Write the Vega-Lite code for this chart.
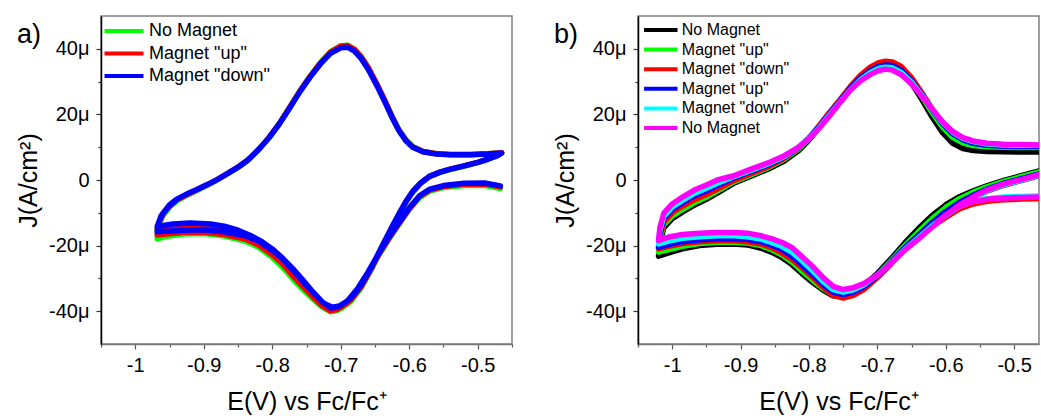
{
"$schema": "https://vega.github.io/schema/vega-lite/v6.json",
"background": "white",
"padding": {"left": 15, "top": 15, "right": 0, "bottom": 0},
"config": {
  "font": "Liberation Sans",
  "view": {"stroke": "#808080", "strokeWidth": 1.5},
  "axis": {"grid": false, "labelColor": "black", "titleColor": "black", "titleFontWeight": "normal", "labelFontSize": 20, "titleFontSize": 25, "tickWidth": 1.2, "labelLimit": 300},
  "axisX": {"domainColor": "#777777", "domainWidth": 1.5, "tickColor": "#555555", "labelPadding": 6, "titlePadding": 14,
    "tickSize": {"condition": {"test": "abs(datum.value*10 - round(datum.value*10)) < 0.001", "value": 5}, "value": 3}},
  "axisY": {"domainColor": "black", "domainWidth": 1.5, "tickColor": "#333333", "labelPadding": 7, "titlePadding": 7,
    "tickSize": {"condition": {"test": "datum.value % 20 == 0", "value": 5}, "value": 3}},
  "legend": {"labelColor": "black", "labelLimit": 400}
},
"datasets": {
"A": [
{"i":1,"E":-0.467,"a1":-2.6,"a2":-2.1,"a3":-1.8},
{"i":2,"E":-0.49,"a1":-1.6,"a2":-1.2,"a3":-0.9},
{"i":3,"E":-0.52,"a1":-1.7,"a2":-1.3,"a3":-1.0},
{"i":4,"E":-0.55,"a1":-2.3,"a2":-2.0,"a3":-1.7},
{"i":5,"E":-0.57,"a1":-3.4,"a2":-3.1,"a3":-2.8},
{"i":6,"E":-0.585,"a1":-5.4,"a2":-5.1,"a3":-4.8},
{"i":7,"E":-0.6,"a1":-9.0,"a2":-8.8,"a3":-8.5},
{"i":8,"E":-0.615,"a1":-13.5,"a2":-13.3,"a3":-13.0},
{"i":9,"E":-0.63,"a1":-18.2,"a2":-17.9,"a3":-17.5},
{"i":10,"E":-0.645,"a1":-23.2,"a2":-22.9,"a3":-22.5},
{"i":11,"E":-0.66,"a1":-28.8,"a2":-28.5,"a3":-28.0},
{"i":12,"E":-0.675,"a1":-33.8,"a2":-33.5,"a3":-33.0},
{"i":13,"E":-0.69,"a1":-37.8,"a2":-37.4,"a3":-36.8},
{"i":14,"E":-0.705,"a1":-39.8,"a2":-39.5,"a3":-38.8},
{"i":15,"E":-0.715,"a1":-40.2,"a2":-39.9,"a3":-39.0},
{"i":16,"E":-0.728,"a1":-38.6,"a2":-38.2,"a3":-37.0},
{"i":17,"E":-0.74,"a1":-36.4,"a2":-35.8,"a3":-34.5},
{"i":18,"E":-0.755,"a1":-33.4,"a2":-32.6,"a3":-31.0},
{"i":19,"E":-0.77,"a1":-30.2,"a2":-29.2,"a3":-27.5},
{"i":20,"E":-0.785,"a1":-26.6,"a2":-25.6,"a3":-24.0},
{"i":21,"E":-0.8,"a1":-23.6,"a2":-22.8,"a3":-21.5},
{"i":22,"E":-0.82,"a1":-20.5,"a2":-19.8,"a3":-18.6},
{"i":23,"E":-0.84,"a1":-18.6,"a2":-18.0,"a3":-17.0},
{"i":24,"E":-0.87,"a1":-17.1,"a2":-16.6,"a3":-15.8},
{"i":25,"E":-0.9,"a1":-16.3,"a2":-15.9,"a3":-15.2},
{"i":26,"E":-0.93,"a1":-16.5,"a2":-16.0,"a3":-15.3},
{"i":27,"E":-0.955,"a1":-17.2,"a2":-16.5,"a3":-15.6},
{"i":28,"E":-0.968,"a1":-18.0,"a2":-16.8,"a3":-15.8},
{"i":29,"E":-0.966,"a1":-14.2,"a2":-13.5,"a3":-13.0},
{"i":30,"E":-0.96,"a1":-11.0,"a2":-10.6,"a3":-10.3},
{"i":31,"E":-0.95,"a1":-8.3,"a2":-7.9,"a3":-7.6},
{"i":32,"E":-0.94,"a1":-6.5,"a2":-6.1,"a3":-5.9},
{"i":33,"E":-0.925,"a1":-4.7,"a2":-4.5,"a3":-4.3},
{"i":34,"E":-0.91,"a1":-3.2,"a2":-3.0,"a3":-2.9},
{"i":35,"E":-0.895,"a1":-1.6,"a2":-1.5,"a3":-1.4},
{"i":36,"E":-0.88,"a1":0.0,"a2":0.1,"a3":0.2},
{"i":37,"E":-0.865,"a1":1.9,"a2":2.0,"a3":2.0},
{"i":38,"E":-0.85,"a1":3.8,"a2":3.9,"a3":3.9},
{"i":39,"E":-0.835,"a1":6.1,"a2":6.2,"a3":6.2},
{"i":40,"E":-0.82,"a1":9.2,"a2":9.3,"a3":9.3},
{"i":41,"E":-0.805,"a1":12.8,"a2":12.9,"a3":12.8},
{"i":42,"E":-0.79,"a1":17.1,"a2":17.1,"a3":17.0},
{"i":43,"E":-0.775,"a1":22.0,"a2":22.0,"a3":21.8},
{"i":44,"E":-0.76,"a1":27.0,"a2":27.0,"a3":26.8},
{"i":45,"E":-0.745,"a1":31.6,"a2":31.5,"a3":31.3},
{"i":46,"E":-0.73,"a1":35.7,"a2":35.6,"a3":35.3},
{"i":47,"E":-0.715,"a1":39.1,"a2":39.0,"a3":38.6},
{"i":48,"E":-0.7,"a1":40.9,"a2":40.8,"a3":40.3},
{"i":49,"E":-0.69,"a1":41.1,"a2":41.0,"a3":40.5},
{"i":50,"E":-0.68,"a1":39.9,"a2":39.8,"a3":39.3},
{"i":51,"E":-0.67,"a1":37.6,"a2":37.5,"a3":37.0},
{"i":52,"E":-0.66,"a1":34.4,"a2":34.3,"a3":33.8},
{"i":53,"E":-0.647,"a1":29.2,"a2":29.1,"a3":28.7},
{"i":54,"E":-0.635,"a1":24.0,"a2":23.9,"a3":23.5},
{"i":55,"E":-0.625,"a1":19.4,"a2":19.3,"a3":19.0},
{"i":56,"E":-0.615,"a1":15.3,"a2":15.2,"a3":15.0},
{"i":57,"E":-0.605,"a1":12.3,"a2":12.2,"a3":12.0},
{"i":58,"E":-0.595,"a1":10.2,"a2":10.1,"a3":10.0},
{"i":59,"E":-0.58,"a1":8.7,"a2":8.7,"a3":8.6},
{"i":60,"E":-0.56,"a1":8.0,"a2":8.0,"a3":7.9},
{"i":61,"E":-0.54,"a1":7.8,"a2":7.8,"a3":7.7},
{"i":62,"E":-0.51,"a1":7.8,"a2":7.8,"a3":7.7},
{"i":63,"E":-0.485,"a1":8.0,"a2":8.0,"a3":7.9},
{"i":64,"E":-0.465,"a1":8.3,"a2":8.3,"a3":8.2},
{"i":65,"E":-0.472,"a1":7.3,"a2":7.4,"a3":7.4},
{"i":66,"E":-0.485,"a1":6.3,"a2":6.4,"a3":6.4},
{"i":67,"E":-0.5,"a1":5.3,"a2":5.4,"a3":5.4},
{"i":68,"E":-0.52,"a1":4.2,"a2":4.3,"a3":4.3},
{"i":69,"E":-0.54,"a1":3.2,"a2":3.3,"a3":3.3},
{"i":70,"E":-0.555,"a1":2.3,"a2":2.4,"a3":2.4},
{"i":71,"E":-0.57,"a1":1.0,"a2":1.1,"a3":1.2},
{"i":72,"E":-0.583,"a1":-1.0,"a2":-0.9,"a3":-0.8},
{"i":73,"E":-0.595,"a1":-3.8,"a2":-3.6,"a3":-3.5},
{"i":74,"E":-0.605,"a1":-6.9,"a2":-6.7,"a3":-6.6},
{"i":75,"E":-0.615,"a1":-10.7,"a2":-10.5,"a3":-10.3},
{"i":76,"E":-0.625,"a1":-14.7,"a2":-14.5,"a3":-14.2},
{"i":77,"E":-0.64,"a1":-20.9,"a2":-20.6,"a3":-20.3},
{"i":78,"E":-0.655,"a1":-27.2,"a2":-26.9,"a3":-26.5},
{"i":79,"E":-0.67,"a1":-32.8,"a2":-32.5,"a3":-32.0},
{"i":80,"E":-0.685,"a1":-36.9,"a2":-36.5,"a3":-36.0},
{"i":81,"E":-0.7,"a1":-39.3,"a2":-38.9,"a3":-38.3},
{"i":82,"E":-0.712,"a1":-39.8,"a2":-39.4,"a3":-38.8},
{"i":83,"E":-0.725,"a1":-38.6,"a2":-38.2,"a3":-37.6},
{"i":84,"E":-0.74,"a1":-35.4,"a2":-35.0,"a3":-34.3},
{"i":85,"E":-0.755,"a1":-31.8,"a2":-31.3,"a3":-30.6},
{"i":86,"E":-0.77,"a1":-28.2,"a2":-27.7,"a3":-27.0},
{"i":87,"E":-0.785,"a1":-25.0,"a2":-24.5,"a3":-23.8},
{"i":88,"E":-0.8,"a1":-22.2,"a2":-21.7,"a3":-21.0},
{"i":89,"E":-0.815,"a1":-19.9,"a2":-19.4,"a3":-18.8},
{"i":90,"E":-0.83,"a1":-18.2,"a2":-17.7,"a3":-17.1},
{"i":91,"E":-0.85,"a1":-16.4,"a2":-15.9,"a3":-15.3},
{"i":92,"E":-0.87,"a1":-15.2,"a2":-14.7,"a3":-14.1},
{"i":93,"E":-0.89,"a1":-14.5,"a2":-14.0,"a3":-13.4},
{"i":94,"E":-0.92,"a1":-14.2,"a2":-13.7,"a3":-13.1},
{"i":95,"E":-0.945,"a1":-14.5,"a2":-14.0,"a3":-13.4},
{"i":96,"E":-0.968,"a1":-15.3,"a2":-14.8,"a3":-14.2},
{"i":97,"E":-0.962,"a1":-11.3,"a2":-11.0,"a3":-10.8},
{"i":98,"E":-0.95,"a1":-8.3,"a2":-8.0,"a3":-7.8},
{"i":99,"E":-0.94,"a1":-6.4,"a2":-6.2,"a3":-6.0}
],
"B": [
{"i":1,"E":-0.44,"b1":3.8,"b2":3.6,"b3":-5.6,"b4":3.0,"b5":-4.8,"b6":-5.2},
{"i":2,"E":-0.465,"b1":2.6,"b2":2.3,"b3":-5.7,"b4":1.8,"b5":-4.9,"b6":-5.2},
{"i":3,"E":-0.49,"b1":1.2,"b2":0.9,"b3":-5.8,"b4":0.4,"b5":-5.0,"b6":-5.3},
{"i":4,"E":-0.515,"b1":-0.2,"b2":-0.5,"b3":-6.0,"b4":-1.0,"b5":-5.2,"b6":-5.5},
{"i":5,"E":-0.54,"b1":-1.9,"b2":-2.2,"b3":-6.5,"b4":-2.8,"b5":-5.7,"b6":-5.9},
{"i":6,"E":-0.56,"b1":-3.4,"b2":-3.8,"b3":-7.3,"b4":-4.6,"b5":-6.5,"b6":-6.6},
{"i":7,"E":-0.58,"b1":-5.2,"b2":-5.8,"b3":-8.8,"b4":-6.8,"b5":-8.0,"b6":-8.0},
{"i":8,"E":-0.6,"b1":-7.6,"b2":-8.4,"b3":-11.4,"b4":-9.6,"b5":-10.8,"b6":-10.6},
{"i":9,"E":-0.62,"b1":-10.8,"b2":-11.8,"b3":-14.2,"b4":-13.0,"b5":-14.0,"b6":-14.4},
{"i":10,"E":-0.64,"b1":-14.8,"b2":-15.8,"b3":-17.6,"b4":-16.8,"b5":-17.6,"b6":-18.0},
{"i":11,"E":-0.66,"b1":-19.2,"b2":-20.0,"b3":-21.2,"b4":-20.6,"b5":-21.2,"b6":-21.4},
{"i":12,"E":-0.68,"b1":-24.0,"b2":-24.6,"b3":-25.6,"b4":-25.0,"b5":-25.3,"b6":-25.4},
{"i":13,"E":-0.7,"b1":-28.5,"b2":-29.0,"b3":-29.8,"b4":-29.2,"b5":-29.0,"b6":-29.0},
{"i":14,"E":-0.72,"b1":-32.2,"b2":-32.6,"b3":-33.4,"b4":-32.6,"b5":-32.0,"b6":-31.6},
{"i":15,"E":-0.735,"b1":-34.3,"b2":-34.5,"b3":-35.2,"b4":-34.2,"b5":-33.5,"b6":-32.8},
{"i":16,"E":-0.75,"b1":-35.5,"b2":-35.4,"b3":-36.0,"b4":-34.9,"b5":-34.2,"b6":-33.4},
{"i":17,"E":-0.765,"b1":-35.3,"b2":-35.0,"b3":-35.2,"b4":-34.2,"b5":-33.4,"b6":-32.4},
{"i":18,"E":-0.78,"b1":-33.5,"b2":-33.0,"b3":-32.6,"b4":-31.8,"b5":-30.8,"b6":-29.6},
{"i":19,"E":-0.795,"b1":-31.2,"b2":-30.5,"b3":-29.6,"b4":-28.8,"b5":-27.6,"b6":-26.3},
{"i":20,"E":-0.81,"b1":-28.6,"b2":-27.8,"b3":-26.8,"b4":-26.0,"b5":-24.7,"b6":-23.4},
{"i":21,"E":-0.825,"b1":-25.8,"b2":-25.0,"b3":-24.2,"b4":-23.2,"b5":-22.0,"b6":-20.6},
{"i":22,"E":-0.84,"b1":-23.6,"b2":-22.8,"b3":-22.2,"b4":-21.2,"b5":-20.2,"b6":-19.0},
{"i":23,"E":-0.855,"b1":-22.0,"b2":-21.2,"b3":-20.6,"b4":-19.8,"b5":-19.0,"b6":-17.9},
{"i":24,"E":-0.87,"b1":-20.8,"b2":-20.0,"b3":-19.5,"b4":-18.8,"b5":-18.0,"b6":-17.0},
{"i":25,"E":-0.89,"b1":-19.8,"b2":-19.2,"b3":-18.8,"b4":-18.1,"b5":-17.3,"b6":-16.2},
{"i":26,"E":-0.91,"b1":-19.5,"b2":-19.0,"b3":-18.5,"b4":-17.9,"b5":-17.0,"b6":-16.0},
{"i":27,"E":-0.935,"b1":-19.6,"b2":-19.0,"b3":-18.5,"b4":-17.9,"b5":-17.0,"b6":-16.0},
{"i":28,"E":-0.96,"b1":-20.0,"b2":-19.4,"b3":-18.8,"b4":-18.2,"b5":-17.3,"b6":-16.2},
{"i":29,"E":-0.985,"b1":-21.0,"b2":-20.2,"b3":-19.4,"b4":-18.8,"b5":-17.8,"b6":-16.6},
{"i":30,"E":-1.005,"b1":-22.2,"b2":-21.2,"b3":-20.2,"b4":-19.7,"b5":-18.6,"b6":-17.4},
{"i":31,"E":-1.02,"b1":-23.2,"b2":-22.0,"b3":-21.0,"b4":-20.5,"b5":-19.5,"b6":-18.5},
{"i":32,"E":-1.018,"b1":-19.0,"b2":-18.0,"b3":-17.2,"b4":-16.2,"b5":-15.4,"b6":-14.5},
{"i":33,"E":-1.012,"b1":-14.5,"b2":-13.6,"b3":-12.8,"b4":-11.8,"b5":-11.0,"b6":-10.0},
{"i":34,"E":-1.0,"b1":-11.8,"b2":-11.0,"b3":-10.0,"b4":-9.0,"b5":-8.2,"b6":-7.3},
{"i":35,"E":-0.985,"b1":-9.8,"b2":-9.0,"b3":-8.0,"b4":-7.0,"b5":-6.2,"b6":-5.2},
{"i":36,"E":-0.967,"b1":-7.6,"b2":-6.9,"b3":-6.0,"b4":-4.8,"b5":-4.0,"b6":-3.0},
{"i":37,"E":-0.95,"b1":-5.9,"b2":-5.2,"b3":-4.4,"b4":-3.3,"b5":-2.5,"b6":-1.5},
{"i":38,"E":-0.934,"b1":-4.0,"b2":-3.4,"b3":-2.8,"b4":-1.7,"b5":-1.0,"b6":0.0},
{"i":39,"E":-0.91,"b1":-1.0,"b2":-0.6,"b3":-0.2,"b4":0.6,"b5":1.0,"b6":1.3},
{"i":40,"E":-0.884,"b1":1.2,"b2":1.6,"b3":2.0,"b4":2.7,"b5":3.0,"b6":3.4},
{"i":41,"E":-0.86,"b1":3.3,"b2":3.7,"b3":4.0,"b4":4.6,"b5":4.9,"b6":5.2},
{"i":42,"E":-0.836,"b1":5.8,"b2":6.3,"b3":6.6,"b4":7.0,"b5":7.2,"b6":7.4},
{"i":43,"E":-0.815,"b1":9.0,"b2":9.5,"b3":9.8,"b4":10.0,"b5":10.0,"b6":10.0},
{"i":44,"E":-0.8,"b1":12.2,"b2":12.6,"b3":12.8,"b4":12.8,"b5":12.7,"b6":12.6},
{"i":45,"E":-0.785,"b1":16.0,"b2":16.4,"b3":16.6,"b4":16.3,"b5":16.0,"b6":15.8},
{"i":46,"E":-0.77,"b1":20.0,"b2":20.4,"b3":20.6,"b4":20.2,"b5":19.8,"b6":19.5},
{"i":47,"E":-0.755,"b1":23.8,"b2":24.2,"b3":24.4,"b4":24.0,"b5":23.6,"b6":23.5},
{"i":48,"E":-0.74,"b1":27.8,"b2":28.2,"b3":28.4,"b4":27.9,"b5":27.4,"b6":27.3},
{"i":49,"E":-0.725,"b1":31.3,"b2":31.6,"b3":31.9,"b4":31.1,"b5":30.5,"b6":30.2},
{"i":50,"E":-0.71,"b1":33.8,"b2":34.2,"b3":34.5,"b4":33.4,"b5":32.8,"b6":32.2},
{"i":51,"E":-0.698,"b1":35.2,"b2":35.5,"b3":35.8,"b4":34.7,"b5":34.0,"b6":33.4},
{"i":52,"E":-0.688,"b1":35.8,"b2":36.0,"b3":36.2,"b4":35.1,"b5":34.4,"b6":33.8},
{"i":53,"E":-0.678,"b1":35.4,"b2":35.6,"b3":36.0,"b4":34.9,"b5":34.2,"b6":33.5},
{"i":54,"E":-0.665,"b1":33.5,"b2":33.9,"b3":34.6,"b4":33.4,"b5":32.8,"b6":32.1},
{"i":55,"E":-0.65,"b1":29.5,"b2":30.2,"b3":31.2,"b4":30.2,"b5":29.8,"b6":29.3},
{"i":56,"E":-0.635,"b1":24.5,"b2":25.5,"b3":26.6,"b4":26.0,"b5":25.8,"b6":25.5},
{"i":57,"E":-0.62,"b1":19.2,"b2":20.6,"b3":21.8,"b4":21.4,"b5":21.6,"b6":21.6},
{"i":58,"E":-0.605,"b1":14.5,"b2":16.2,"b3":17.4,"b4":17.2,"b5":17.6,"b6":17.8},
{"i":59,"E":-0.59,"b1":11.2,"b2":13.0,"b3":14.2,"b4":14.1,"b5":14.6,"b6":14.8},
{"i":60,"E":-0.575,"b1":9.6,"b2":11.3,"b3":12.4,"b4":12.2,"b5":12.7,"b6":12.9},
{"i":61,"E":-0.56,"b1":9.0,"b2":10.5,"b3":11.4,"b4":11.2,"b5":11.7,"b6":11.9},
{"i":62,"E":-0.54,"b1":8.7,"b2":10.1,"b3":10.9,"b4":10.6,"b5":11.0,"b6":11.2},
{"i":63,"E":-0.515,"b1":8.6,"b2":10.0,"b3":10.7,"b4":10.3,"b5":10.7,"b6":10.9},
{"i":64,"E":-0.49,"b1":8.5,"b2":9.9,"b3":10.6,"b4":10.2,"b5":10.6,"b6":10.8},
{"i":65,"E":-0.465,"b1":8.5,"b2":9.9,"b3":10.6,"b4":10.2,"b5":10.6,"b6":10.7},
{"i":66,"E":-0.44,"b1":8.5,"b2":9.9,"b3":10.6,"b4":10.2,"b5":10.6,"b6":10.7},
{"i":67,"E":-0.44,"b1":4.0,"b2":3.7,"b3":2.4,"b4":2.6,"b5":2.6,"b6":2.8},
{"i":68,"E":-0.465,"b1":2.7,"b2":2.4,"b3":1.2,"b4":1.4,"b5":1.4,"b6":1.6},
{"i":69,"E":-0.49,"b1":1.3,"b2":1.0,"b3":-0.2,"b4":-0.1,"b5":-0.1,"b6":0.1},
{"i":70,"E":-0.515,"b1":-0.1,"b2":-0.4,"b3":-1.6,"b4":-1.4,"b5":-1.4,"b6":-1.2},
{"i":71,"E":-0.54,"b1":-1.8,"b2":-2.1,"b3":-3.4,"b4":-3.2,"b5":-3.2,"b6":-3.0},
{"i":72,"E":-0.56,"b1":-3.3,"b2":-3.7,"b3":-5.6,"b4":-5.4,"b5":-5.4,"b6":-5.2},
{"i":73,"E":-0.58,"b1":-5.1,"b2":-5.7,"b3":-8.0,"b4":-7.8,"b5":-7.8,"b6":-7.6},
{"i":74,"E":-0.6,"b1":-7.5,"b2":-8.3,"b3":-11.0,"b4":-10.8,"b5":-10.8,"b6":-10.8}
]
},
"spacing": 38,
"resolve": {"scale": {"color": "independent"}, "legend": {"color": "independent"}},
"hconcat": [
{
  "width": 411, "height": 328,
  "title": {"text": "a)", "anchor": "start", "frame": "group", "orient": "top", "dx": -84, "offset": -54, "baseline": "alphabetic", "fontSize": 27, "fontWeight": "normal", "color": "black", "font": "Liberation Sans"},
  "data": {"name": "A"},
  "transform": [{"fold": ["a1", "a2", "a3"], "as": ["s", "J"]}],
  "mark": {"type": "line", "strokeWidth": 5.5, "clip": true, "strokeJoin": "round", "strokeCap": "round"},
  "encoding": {
    "x": {"field": "E", "type": "quantitative", "scale": {"domain": [-1.05, -0.45], "nice": false, "zero": false},
      "axis": {"title": "E(V) vs Fc/Fc⁺", "values": [-1.05,-1,-0.95,-0.9,-0.85,-0.8,-0.75,-0.7,-0.65,-0.6,-0.55,-0.5,-0.45],
        "labelExpr": "abs(datum.value*10 - round(datum.value*10)) < 0.001 ? '' + datum.value : ''"}},
    "y": {"field": "J", "type": "quantitative", "scale": {"domain": [-50, 50], "nice": false},
      "axis": {"title": "J(A/cm²)", "values": [-40,-30,-20,-10,0,10,20,30,40],
        "labelExpr": "datum.value % 20 == 0 ? (datum.value == 0 ? '0' : datum.value + 'μ') : ''"}},
    "color": {"field": "s", "type": "nominal", "scale": {"domain": ["a1", "a2", "a3"], "range": ["#00ff00", "#ff0000", "#0000ff"]},
      "legend": {"orient": "none", "legendX": 14, "legendY": 6, "title": null, "padding": 0, "symbolType": "M-4,0L4,0", "symbolSize": 95, "symbolStrokeWidth": 4, "labelFontSize": 18, "labelOffset": 16, "rowPadding": 4.5,
        "labelExpr": "datum.label == 'a1' ? 'No Magnet' : datum.label == 'a2' ? 'Magnet \"up\"' : 'Magnet \"down\"'"}},
    "order": {"field": "i", "type": "quantitative"}
  }
},
{
  "width": 401, "height": 328,
  "title": {"text": "b)", "anchor": "start", "frame": "group", "orient": "top", "dx": -84, "offset": -54, "baseline": "alphabetic", "fontSize": 27, "fontWeight": "normal", "color": "black", "font": "Liberation Sans"},
  "data": {"name": "B"},
  "transform": [{"fold": ["b1", "b2", "b3", "b4", "b5", "b6"], "as": ["s", "J"]}],
  "mark": {"type": "line", "strokeWidth": 5.5, "clip": true, "strokeJoin": "round", "strokeCap": "round"},
  "encoding": {
    "x": {"field": "E", "type": "quantitative", "scale": {"domain": [-1.05, -0.4637], "nice": false, "zero": false},
      "axis": {"title": "E(V) vs Fc/Fc⁺", "values": [-1.05,-1,-0.95,-0.9,-0.85,-0.8,-0.75,-0.7,-0.65,-0.6,-0.55,-0.5],
        "labelExpr": "abs(datum.value*10 - round(datum.value*10)) < 0.001 ? '' + datum.value : ''"}},
    "y": {"field": "J", "type": "quantitative", "scale": {"domain": [-50, 50], "nice": false},
      "axis": {"title": "J(A/cm²)", "values": [-40,-30,-20,-10,0,10,20,30,40],
        "labelExpr": "datum.value % 20 == 0 ? (datum.value == 0 ? '0' : datum.value + 'μ') : ''"}},
    "color": {"field": "s", "type": "nominal", "scale": {"domain": ["b1", "b2", "b3", "b4", "b5", "b6"], "range": ["#000000", "#00ff00", "#ff0000", "#0000ff", "#00ffff", "#ff00ff"]},
      "legend": {"orient": "none", "legendX": 14.8, "legendY": 6, "title": null, "padding": 0, "symbolType": "M-4,0L4,0", "symbolSize": 70, "symbolStrokeWidth": 4, "labelFontSize": 16, "labelOffset": 13, "rowPadding": 3.6,
        "labelExpr": "(datum.label == 'b1' || datum.label == 'b6') ? 'No Magnet' : (datum.label == 'b2' || datum.label == 'b4') ? 'Magnet \"up\"' : 'Magnet \"down\"'"}},
    "order": {"field": "i", "type": "quantitative"}
  }
}
]
}
